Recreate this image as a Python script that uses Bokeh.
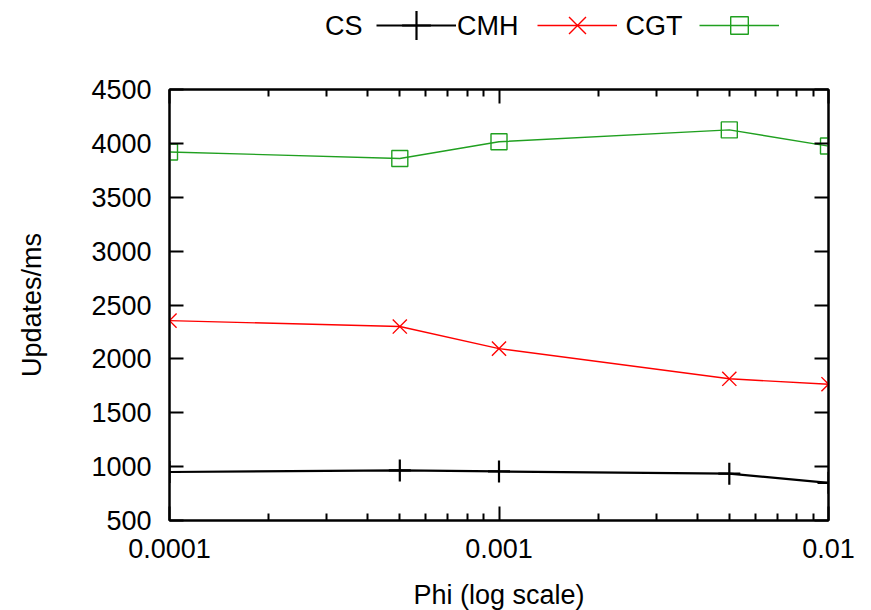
from bokeh.plotting import figure
from bokeh.layouts import column
from bokeh.models import (Range1d, LinearAxis, LogAxis, FixedTicker, Legend,
                          LegendItem, Label)
from bokeh.embed import file_html
from bokeh.resources import INLINE

# ---- data ----
phi = [0.0001, 0.0005, 0.001, 0.005, 0.01]
cs = [950, 965, 955, 935, 850]
cmh = [2355, 2300, 2095, 1815, 1765]
cgt = [3920, 3860, 4015, 4125, 3975]
series_names = ["CS", "CMH", "CGT"]
x_major = [0.0001, 0.001, 0.01]
x_minor = [2e-4, 3e-4, 4e-4, 5e-4, 6e-4, 7e-4, 8e-4, 9e-4,
           2e-3, 3e-3, 4e-3, 5e-3, 6e-3, 7e-3, 8e-3, 9e-3]
x_tick_labels = ["0.0001", "0.001", "0.01"]
y_ticks = [500, 1000, 1500, 2000, 2500, 3000, 3500, 4000, 4500]

FONT = "Liberation Sans"
FS = "27px"
W = 862
LEG_H = 50
BL = 169  # left border of both figures (frames are aligned in the column)

# ---- main plot ----
p = figure(x_axis_type="log", output_backend="svg", toolbar_location=None,
           frame_width=659, frame_height=431,
           min_border_left=BL, min_border_right=W - BL - 659,
           min_border_top=89 - LEG_H, min_border_bottom=85,
           x_range=Range1d(1e-4, 1e-2), y_range=Range1d(500, 4500))
p.grid.visible = False
p.outline_line_color = "black"
p.outline_line_width = 2
p.background_fill_color = "white"
p.border_fill_color = "white"


def style_axis(ax, labels=True):
    ax.axis_line_width = 2
    ax.major_tick_line_width = 2
    ax.minor_tick_line_width = 2
    ax.major_tick_in = 14
    ax.major_tick_out = 0
    ax.minor_tick_in = 7
    ax.minor_tick_out = 0
    ax.major_label_text_font = FONT
    ax.major_label_text_font_size = FS
    ax.major_label_text_color = "black" if labels else None
    ax.axis_label_text_font = FONT
    ax.axis_label_text_font_size = FS
    ax.axis_label_text_font_style = "normal"
    ax.axis_label_text_color = "black"


xt = FixedTicker(ticks=x_major, minor_ticks=x_minor)
yt = FixedTicker(ticks=y_ticks, minor_ticks=[])

xa = p.xaxis[0]
xa.ticker = xt
xa.major_label_overrides = {v: s for v, s in zip(x_major, x_tick_labels)}
xa.axis_label = "Phi (log scale)"
style_axis(xa)
xa.major_label_standoff = 18
xa.axis_label_standoff = 19

ya = p.yaxis[0]
ya.ticker = yt
ya.axis_label = "Updates/ms"
style_axis(ya)
ya.major_label_standoff = 18
ya.axis_label_standoff = 41

ra = LinearAxis(ticker=yt)
style_axis(ra, labels=False)
p.add_layout(ra, "right")
ta = LogAxis(ticker=xt)
style_axis(ta, labels=False)
p.add_layout(ta, "above")

# ---- series ----
styles = [
    dict(color="black", lw=2.2, marker="cross", size=22),
    dict(color="#ff0000", lw=1.4, marker="x", size=20),
    dict(color="#20a020", lw=1.4, marker="square", size=16),
]
for ys, st in zip([cs, cmh, cgt], styles):
    p.line(phi, ys, line_color=st["color"], line_width=st["lw"])
    p.scatter(phi, ys, marker=st["marker"], size=st["size"],
              line_color=st["color"], fill_color=None, line_width=st["lw"])

# ---- legend row (gnuplot style: text then sample) ----
leg = figure(width=W, height=LEG_H, output_backend="svg", toolbar_location=None,
             min_border_left=BL, min_border_right=W - BL - 659,
             min_border_top=0, min_border_bottom=0,
             x_axis_location=None, y_axis_location=None,
             x_range=Range1d(0, 659), y_range=Range1d(0, LEG_H))
leg.grid.visible = False
leg.outline_line_color = None
leg.background_fill_color = "white"
leg.border_fill_color = "white"

text_right = [362, 518, 682]   # page x of right end of each legend text
glyph_left = [376, 537, 699]   # page x of the left end of each sample
legend_glyph_h = [72, 60, 44]
yc = LEG_H - 25
nan = [float("nan")]
for name, st, tr, gl, gh in zip(series_names, styles, text_right, glyph_left,
                                legend_glyph_h):
    lr = leg.line(nan, nan, line_color=st["color"], line_width=st["lw"])
    mr = leg.scatter(nan, nan, marker=st["marker"], line_color=st["color"],
                     fill_color=None, line_width=st["lw"])
    lg = Legend(items=[LegendItem(label="", renderers=[lr, mr])],
                location=(gl - BL, yc - gh // 2),
                glyph_width=80, glyph_height=gh, label_width=0,
                label_height=gh, label_standoff=0, padding=0, margin=0,
                spacing=0, border_line_color=None, background_fill_alpha=0)
    leg.add_layout(lg, "center")
    leg.add_layout(Label(x=tr - BL, y=yc, x_units="screen", y_units="screen",
                         text=name, text_align="right", text_baseline="middle",
                         text_font=FONT, text_font_size=FS, text_color="black"))

layout = column(leg, p, spacing=0)
open("out.html", "w").write(file_html(layout, INLINE))
